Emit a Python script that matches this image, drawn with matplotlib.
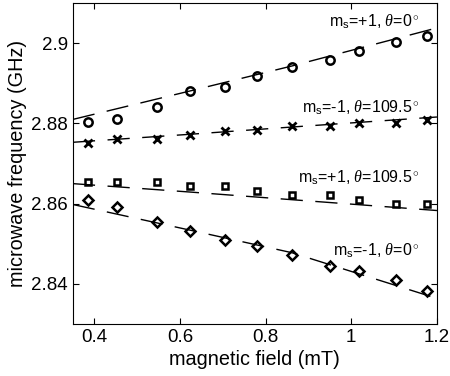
import numpy as np
import matplotlib
matplotlib.use("Agg")
from matplotlib import pyplot as plt

plt.rcParams['font.family'] = ['Liberation Sans', 'DejaVu Sans']
plt.rcParams['mathtext.fontset'] = 'custom'
plt.rcParams['mathtext.rm'] = 'Liberation Sans'
plt.rcParams['mathtext.it'] = 'Liberation Serif:italic'

# measured field values (mT)
field = [0.386, 0.454, 0.546, 0.624, 0.704, 0.781, 0.861, 0.951, 1.019, 1.104, 1.176]

# measured frequencies (GHz)
f_p1_0 = [2.8803, 2.8810, 2.8842, 2.8880, 2.8891, 2.8918, 2.8941, 2.8958, 2.8980, 2.9002, 2.9019]
f_m1_109 = [2.8752, 2.8760, 2.8760, 2.8770, 2.8780, 2.8783, 2.8793, 2.8793, 2.8802, 2.8802, 2.8809]
f_p1_109 = [2.8655, 2.8653, 2.8653, 2.8643, 2.8643, 2.8631, 2.8621, 2.8621, 2.8609, 2.8599, 2.8599]
f_m1_0 = [2.8610, 2.8593, 2.8555, 2.8532, 2.8510, 2.8494, 2.8472, 2.8444, 2.8432, 2.8410, 2.8383]

# theory curves (dashed)
field_th = [0.35, 0.624, 0.861, 1.2]
th_p1_0 = [2.8810, 2.8881, 2.8943, 2.9038]
th_m1_109 = [2.8753, 2.8773, 2.8791, 2.8816]
th_p1_109 = [2.8650, 2.8629, 2.8610, 2.8583]
th_m1_0 = [2.8598, 2.8534, 2.8478, 2.8364]

labels = [r'm$_{\rm s}$=+1, $\theta$=0$^\circ$',
          r'm$_{\rm s}$=-1, $\theta$=109.5$^\circ$',
          r'm$_{\rm s}$=+1, $\theta$=109.5$^\circ$',
          r'm$_{\rm s}$=-1, $\theta$=0$^\circ$']
label_y = [2.9052, 2.8838, 2.8665, 2.8482]

fig = plt.figure(figsize=(4.5, 3.76), dpi=100)
ax = fig.add_axes([0.162, 0.138, 0.809, 0.854])

for th in [th_p1_0, th_m1_109, th_p1_109, th_m1_0]:
    ax.plot(field_th, th, color='k', lw=1.0, dashes=(16, 9))

ax.plot(field, f_p1_0, 'o', ms=6, mfc='none', mec='k', mew=1.8)
ax.plot(field, f_m1_109, 'x', ms=6, mec='k', mew=2.0)
ax.plot(field, f_p1_109, 's', ms=5, mfc='none', mec='k', mew=1.8)
ax.plot(field, f_m1_0, 'D', ms=5.5, mfc='none', mec='k', mew=1.8)

for lab, yy in zip(labels, label_y):
    ax.text(1.16, yy, lab, ha='right', va='center', fontsize=11.5)

ax.set_xlim(0.35, 1.2)
ax.set_ylim(2.83, 2.91)
ax.set_xticks([0.4, 0.6, 0.8, 1.0, 1.2])
ax.set_xticklabels(['0.4', '0.6', '0.8', '1', '1.2'])
ax.set_yticks([2.84, 2.86, 2.88, 2.9])
ax.set_yticklabels(['2.84', '2.86', '2.88', '2.9'])
ax.tick_params(direction='in', top=True, right=True, labelsize=13.5, length=4, width=0.8)
ax.set_xlabel('magnetic field (mT)', fontsize=14.3, labelpad=3)
ax.set_ylabel('microwave frequency (GHz)', fontsize=14.3, labelpad=3)
for s in ax.spines.values():
    s.set_linewidth(0.8)

fig.savefig('out.png', dpi=100)
